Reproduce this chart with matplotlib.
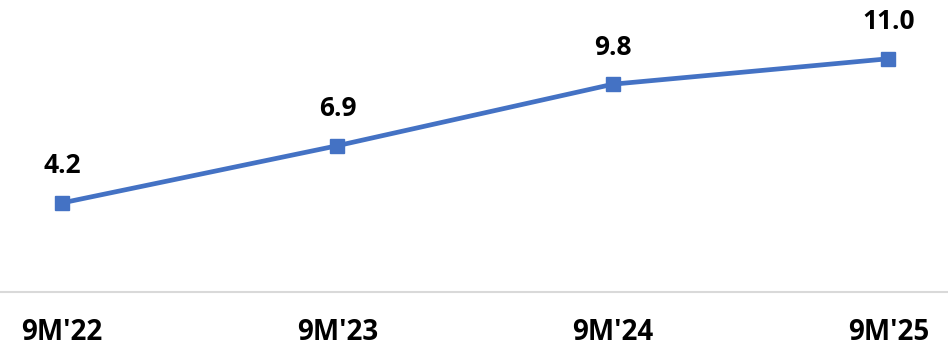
import matplotlib
matplotlib.use("Agg")
import matplotlib.pyplot as plt

periods = ["9M'22", "9M'23", "9M'24", "9M'25"]
values = [4.2, 6.9, 9.8, 11.0]

plt.rcParams['font.family'] = ['Open Sans', 'DejaVu Sans']

fig = plt.figure(figsize=(9.48, 3.48), dpi=100)
ax = fig.add_axes([0, 56 / 348, 1, 1 - 56 / 348])

x = list(range(len(periods)))
ax.plot(x, values, color='#4472C4', linewidth=3.4, marker='s',
        markersize=10.5, markerfacecolor='#4472C4', markeredgecolor='#4472C4',
        solid_capstyle='round', zorder=3)

for xi, v in zip(x, values):
    ax.annotate(f"{v:.1f}", (xi, v), xytext=(0, 17), textcoords='offset points',
                ha='center', va='bottom', fontsize=19, fontweight='bold',
                color='black')

ax.set_xlim(-0.225, 3.216)
ax.set_ylim(0, 13.77)

ax.set_xticks(x)
ax.set_xticklabels(periods, fontsize=20, fontweight='bold')
ax.tick_params(axis='x', length=0, pad=19)
ax.set_yticks([])

for side in ['top', 'right', 'left']:
    ax.spines[side].set_visible(False)
ax.spines['bottom'].set_color('#D9D9D9')
ax.spines['bottom'].set_linewidth(1.5)

fig.savefig('out.png', dpi=100)
